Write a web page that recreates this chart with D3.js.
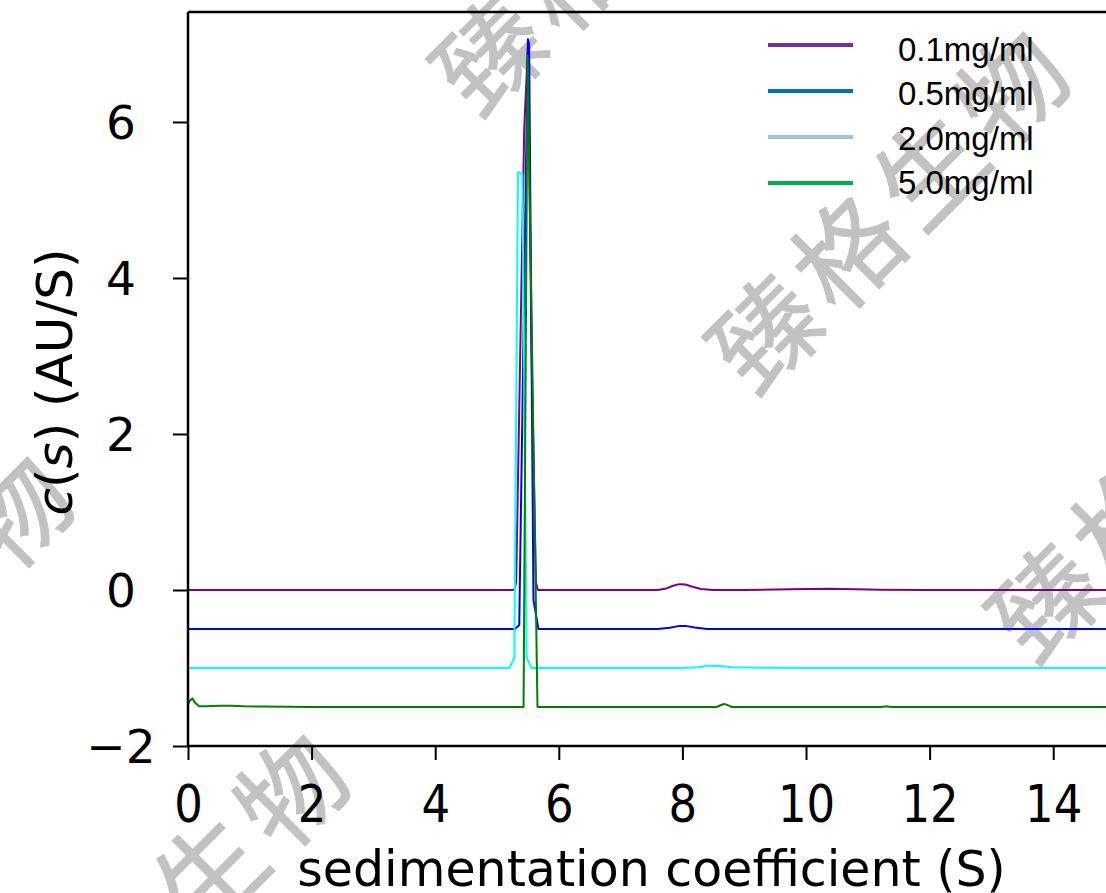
<!DOCTYPE html>
<html>
<head>
<meta charset="utf-8">
<script src="https://cdn.jsdelivr.net/npm/d3@7"></script>
<style>
  html, body { margin: 0; padding: 0; background: #fff; }
  svg { display: block; }
</style>
</head>
<body>
<svg id="chart" width="1106" height="893"></svg>
<script>
// ---------- data ----------
const seriesNames = ["0.1mg/ml", "0.5mg/ml", "2.0mg/ml", "5.0mg/ml"];
const lineColors = ["#800080", "#0000ff", "#00ffff", "#008000"];
const legendColors = ["#7030a0", "#0070c0", "#9dc3e6", "#00b050"];

const s01 = [0, 2, 4, 5, 5.28, 5.31, 5.44, 5.5, 5.56, 5.63, 5.66, 6, 7, 7.6, 7.72, 7.85, 7.95, 8.05, 8.15, 8.3, 8.5, 9, 9.5, 10, 10.4, 10.8, 11.2, 12, 13, 14, 15];
const c01 = [0, 0, 0, 0, 0, 0.1, 5.9, 6.95, 3.0, 0.1, 0, 0, 0, 0, 0.015, 0.055, 0.075, 0.07, 0.045, 0.012, 0, 0, 0.005, 0.012, 0.015, 0.01, 0.004, 0, 0, 0, 0];

const s05 = [0, 2, 4, 5, 5.29, 5.36, 5.5, 5.52, 5.59, 5.67, 6, 7, 7.6, 7.8, 7.95, 8.05, 8.2, 8.4, 9, 10, 12, 14, 15];
const c05 = [-0.5, -0.5, -0.5, -0.5, -0.5, -0.45, 7.06, 7.0, -0.13, -0.5, -0.5, -0.5, -0.5, -0.485, -0.46, -0.46, -0.48, -0.5, -0.5, -0.5, -0.5, -0.5, -0.5];

const s20 = [0, 2, 4, 5, 5.2, 5.28, 5.34, 5.41, 5.48, 5.56, 6, 7, 8, 8.25, 8.4, 8.5, 8.6, 8.8, 9, 10, 12, 14, 15];
const c20 = [-1, -1, -1, -1, -1, -0.87, 5.36, 5.33, -0.87, -1, -1, -1, -1, -0.99, -0.972, -0.97, -0.975, -0.99, -0.995, -1, -1, -1, -1];

const s50 = [0, 0.03, 0.07, 0.12, 0.18, 0.3, 0.5, 0.7, 0.9, 1.2, 2, 4, 5, 5.43, 5.495, 5.655, 6, 7, 8, 8.55, 8.63, 8.68, 8.74, 8.8, 9, 10, 11, 11.22, 11.3, 11.38, 12, 13, 14, 15];
const c50 = [-1.46, -1.42, -1.39, -1.45, -1.49, -1.49, -1.485, -1.483, -1.49, -1.495, -1.5, -1.5, -1.5, -1.5, 6.85, -1.5, -1.5, -1.5, -1.5, -1.5, -1.475, -1.46, -1.48, -1.5, -1.5, -1.5, -1.5, -1.5, -1.49, -1.5, -1.5, -1.5, -1.5, -1.5];

const xTicks = [0, 2, 4, 6, 8, 10, 12, 14];
const yTicks = [-2, 0, 2, 4, 6];
const xDomain = [0, 15];
const yDomain = [-2, 7.41];
const xTitle = "sedimentation coefficient (S)";
const watermarkText = "臻格生物";

// ---------- layout ----------
const svg = d3.select("#chart");
const W = 1106, H = 893;
const plot = { left: 188, top: 12, right: 1115, bottom: 746 };

const x = d3.scaleLinear().domain(xDomain).range([plot.left, plot.right]);
const y = d3.scaleLinear().domain(yDomain).range([plot.bottom, plot.top]);

svg.append("rect").attr("width", W).attr("height", H).attr("fill", "#fff");

// ---------- watermarks (behind) ----------
const wmCenters = [[888, 203], [612, -75], [1168, 472], [-108, 628], [168, 906]];
const wm = svg.append("g").attr("class", "watermark");
wmCenters.forEach(([cx, cy]) => {
  wm.append("text")
    .attr("transform", `translate(${cx},${cy}) rotate(-45)`)
    .attr("text-anchor", "middle")
    .attr("dominant-baseline", "central")
    .attr("font-family", "'Noto Sans CJK SC', sans-serif")
    .attr("font-size", 106)
    .attr("font-weight", 400)
    .attr("letter-spacing", 10)
    .attr("fill", "#c2c2c2")
    .attr("stroke", "#c2c2c2")
    .attr("stroke-width", 1)
    .attr("stroke-linejoin", "round")
    .text(watermarkText);
});

// ---------- lines ----------
const series = [
  { s: s01, c: c01 },
  { s: s05, c: c05 },
  { s: s20, c: c20 },
  { s: s50, c: c50 }
];
const line = d3.line().x(d => x(d[0])).y(d => y(d[1]));
svg.append("clipPath").attr("id", "clip")
  .append("rect").attr("x", plot.left).attr("y", plot.top)
  .attr("width", plot.right - plot.left).attr("height", plot.bottom - plot.top);
const lg = svg.append("g").attr("clip-path", "url(#clip)");
series.forEach((sr, i) => {
  const pts = sr.s.map((v, k) => [v, sr.c[k]]);
  lg.append("path")
    .attr("d", line(pts))
    .attr("fill", "none")
    .attr("stroke", lineColors[i])
    .attr("stroke-width", 2)
    .attr("stroke-linejoin", "round");
});

// ---------- axes ----------
const tickFont = "'DejaVu Sans', sans-serif";
const xAxis = svg.append("g").attr("transform", `translate(0,${plot.bottom})`)
  .call(d3.axisBottom(x).tickValues(xTicks).tickSize(14).tickFormat(d3.format("d")));
const yAxis = svg.append("g").attr("transform", `translate(${plot.left},0)`)
  .call(d3.axisLeft(y).tickValues(yTicks).tickSize(15)
    .tickFormat(d => d < 0 ? "\u2212" + Math.abs(d) : String(d)));
[xAxis, yAxis].forEach(a => {
  a.select(".domain").remove();
  a.selectAll(".tick line").attr("stroke", "#000").attr("stroke-width", 2);
  a.selectAll(".tick text").attr("fill", "#000").attr("font-family", tickFont);
});
// x tick labels: slightly tall glyphs, baseline ~822
xAxis.selectAll(".tick text")
  .attr("font-size", 45)
  .attr("y", 0).attr("dy", 0)
  .attr("transform", `translate(0,${822 - plot.bottom}) scale(1,1.13)`);
// y tick labels: centred at x ~121
yAxis.selectAll(".tick text")
  .attr("font-size", 47)
  .attr("text-anchor", "middle")
  .attr("x", 121 - plot.left)
  .attr("dy", "0.36em");

// spines
const sp = svg.append("g").attr("stroke", "#000").attr("stroke-width", 2.5).attr("fill", "none");
sp.append("line").attr("x1", plot.left).attr("x2", plot.left).attr("y1", plot.top).attr("y2", plot.bottom);
sp.append("line").attr("x1", plot.left).attr("x2", plot.right).attr("y1", plot.bottom).attr("y2", plot.bottom);
sp.append("line").attr("x1", plot.left).attr("x2", plot.right).attr("y1", plot.top).attr("y2", plot.top);
sp.append("line").attr("x1", plot.right).attr("x2", plot.right).attr("y1", plot.top).attr("y2", plot.bottom);

// axis titles
svg.append("text")
  .attr("x", (plot.left + plot.right) / 2).attr("y", 886)
  .attr("text-anchor", "middle")
  .attr("font-family", tickFont).attr("font-size", 49).attr("fill", "#000")
  .text(xTitle);

const yt = svg.append("text")
  .attr("transform", `translate(72,${(plot.top + plot.bottom) / 2 + 3}) rotate(-90)`)
  .attr("text-anchor", "middle")
  .attr("font-family", tickFont).attr("font-size", 50).attr("fill", "#000");
yt.append("tspan").attr("font-style", "italic").text("c");
yt.append("tspan").text("(");
yt.append("tspan").attr("font-style", "italic").text("s");
yt.append("tspan").text(") (AU/S)");

// ---------- legend ----------
const legend = svg.append("g");
seriesNames.forEach((name, i) => {
  const ly = 45 + i * 46;
  legend.append("line")
    .attr("x1", 768).attr("x2", 853).attr("y1", ly).attr("y2", ly)
    .attr("stroke", legendColors[i]).attr("stroke-width", 4);
  legend.append("text")
    .attr("x", 898).attr("y", 61 + i * 44.3)
    .attr("font-family", "'Liberation Sans', Arial, sans-serif")
    .attr("font-size", 33).attr("fill", "#000")
    .text(name);
});
</script>
</body>
</html>
